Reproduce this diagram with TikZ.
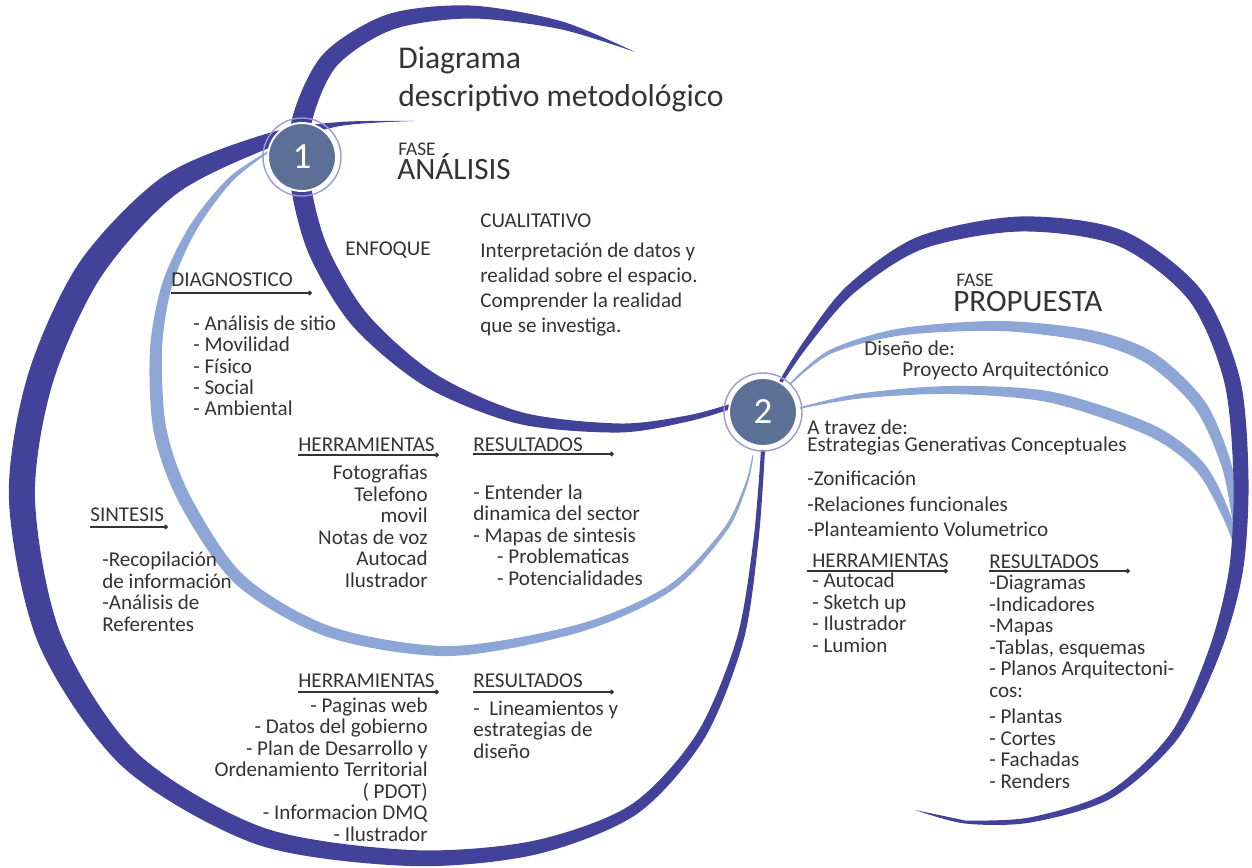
\documentclass[tikz,border=0pt]{standalone}
\usepackage{fontspec}
\setmainfont{Carlito}
\usetikzlibrary{arrows.meta}
\definecolor{swooshDark}{RGB}{66,66,154}
\definecolor{swooshLight}{RGB}{142,166,214}
\definecolor{phaseFill}{RGB}{92,112,149}
\definecolor{phaseRing}{RGB}{157,153,211}
\definecolor{ink}{RGB}{51,51,51}
\setlength{\lineskiplimit}{-10pt}

\begin{document}
\begin{tikzpicture}[x = 0.02cm, y = -0.02cm]
\tikzstyle{darkStyle} = [fill = swooshDark]
\tikzstyle{lightStyle} = [fill = swooshLight]
\tikzstyle{phaseStyle} = [shape = circle, minimum size = 1.36cm, inner sep = 0pt, fill = phaseFill, draw = white, line width = 1.1pt, text = white, font = \fontsize{21}{21}\selectfont]
\tikzstyle{ringStyle} = [draw = phaseRing, line width = 0.8pt]
\tikzstyle{bodyStyle} = [inner sep = 0pt, text = ink, align = left, anchor = base west, font = \fontsize{12}{12.2}\selectfont]
\tikzstyle{rightStyle} = [bodyStyle, align = right, anchor = base east]
\tikzstyle{titleStyle} = [bodyStyle, font = \fontsize{18}{22}\selectfont]
\tikzstyle{faseStyle} = [bodyStyle, font = \fontsize{11}{11}\selectfont]
\tikzstyle{phaseNameStyle} = [bodyStyle, font = \fontsize{17.7}{17.7}\selectfont]
\tikzstyle{ruleStyle} = [draw = ink, line width = 0.6pt, -{Circle[length = 2.6pt]}]
\useasboundingbox (0,0) rectangle (1252,868);
\fill[lightStyle] plot[smooth] coordinates {(267.5,151.4) (228.2,178.2) (189.6,225.9) (162.2,283.5) (150,349.7) (153.6,431.2) (179.3,503.1) (236,584.4) (328.2,637.2) (450.1,656) (581.1,631.8) (671.7,590.5) (726.6,531.2) (747.1,485.4) (753.5,455)}
  -- plot[smooth] coordinates {(752.5,455) (744.9,484.6) (723.4,528.8) (668.3,585.5) (578.9,624.2) (449.9,646) (331.8,626.8) (244,575.6) (190.7,496.9) (166.4,428.8) (162,350.3) (171.8,286.5) (196.4,230.1) (231.8,181.8) (268.5,152.6)} -- cycle;
\fill[lightStyle] plot[smooth] coordinates {(789.5,383.4) (829.1,350.2) (899.5,328.5) (1000.1,321) (1091.3,330.1) (1153.5,352.5) (1204.9,401.5) (1231.8,465.6) (1240,529.6) (1241,560)}
  -- plot[smooth] coordinates {(1239,560) (1234,530.4) (1222.2,468.4) (1195.1,408.5) (1146.5,363.5) (1088.7,341.9) (999.9,331) (900.5,335.5) (830.9,353.8) (790.5,384.6)} -- cycle;
\fill[lightStyle] plot[smooth] coordinates {(799.8,407.2) (859.7,393.5) (950,386) (1051.1,391.6) (1152.5,424.6) (1204.1,463.4) (1230.7,515.4) (1241,560)}
  -- plot[smooth] coordinates {(1239,560) (1223.3,518.6) (1195.9,470.6) (1147.5,435.4) (1048.9,402.4) (950,394) (860.3,398.5) (800.2,408.8)} -- cycle;
\fill[darkStyle] plot[smooth] coordinates {(415,121) (339.7,122) (267.6,133.4) (163.6,176.1) (79.2,262.8) (27.5,376.3) (9,500.5) (38.9,644.6) (123.1,767.2) (257,844.5) (409.6,866) (534.5,854.8) (636,814.6) (703.8,739.4) (743.4,641) (758.5,540.3) (765,450.2)}
  -- plot[smooth] coordinates {(761,449.8) (753.5,539.7) (736.6,639) (696.2,734.6) (630,805.4) (531.5,841.2) (410.4,850) (263,827.5) (136.9,752.8) (61.1,635.4) (35,499.5) (52.5,383.7) (100.8,277.2) (176.4,193.9) (272.4,146.6) (340.3,126) (415,121)} -- cycle;
\fill[darkStyle] plot[smooth] coordinates {(635,52) (560.9,21.1) (470.1,5.5) (387.4,14.4) (323.3,54) (292.3,117.6) (290.1,181.2) (308.8,253.9) (352.8,326.2) (425.8,386.8) (518.5,423.8) (620,432.5) (690.6,420.9) (735.7,407.4)}
  -- plot[smooth] coordinates {(734.3,402.6) (689.4,415.1) (620,423.5) (521.5,412.2) (434.2,373.2) (367.2,313.8) (327.2,246.1) (309.9,178.8) (311.7,122.4) (336.7,66) (392.6,29.6) (469.9,18.5) (559.1,28.9) (635,52)} -- cycle;
\fill[darkStyle] plot[smooth] coordinates {(775.7,387.2) (802.6,343.2) (846.7,286.3) (917.6,236.9) (1019.8,216.5) (1123,230.6) (1201.3,290) (1239.8,378.1) (1248.5,479.8) (1242.9,571.1) (1220.6,652.1) (1178.6,737.6) (1111.8,798) (1030.5,822.5) (964.9,823.5) (915,810)}
  -- plot[smooth] coordinates {(965.1,820.5) (1029.5,817.5) (1108.2,792) (1171.4,732.4) (1209.4,647.9) (1229.1,568.9) (1233.5,480.2) (1224.2,381.9) (1188.7,300) (1117,245.4) (1020.2,231.5) (922.4,249.1) (853.3,293.7) (807.4,346.8) (778.3,388.8)} -- cycle;
\node[phaseStyle] (phase1) at (302,157) {1};
\node[phaseStyle] (phase2) at (763,412) {2};
\draw[ringStyle] (phase1.center) circle[radius = 39];
\draw[ringStyle] (phase2.center) circle[radius = 39];
\node[titleStyle] (title) at (398,107) {Diagrama\\descriptivo metodológico};
\node[faseStyle] (faseA) at (398,156) {FASE};
\node[phaseNameStyle] (analisis) at (397,180) {ANÁLISIS};
\node[bodyStyle] (enfoque) at (345,256) {ENFOQUE};
\node[bodyStyle] (cualitativo) at (480,228) {CUALITATIVO};
\node[bodyStyle, font = \fontsize{12}{14.3}\selectfont] (interp) at (480,333) {Interpretación de datos y\\realidad sobre el espacio.\\Comprender la realidad\\que se investiga.};
\node[bodyStyle] (diag) at (171,287) {DIAGNOSTICO};
\coordinate (diagEnd) at (312,293);
\draw[ruleStyle] (diag.west |- diagEnd) -- (diagEnd);
\node[bodyStyle] (diagList) at (193,416) {- Análisis de sitio\\- Movilidad\\- Físico\\- Social\\- Ambiental};
\node[bodyStyle] (herrA) at (298,452) {HERRAMIENTAS};
\coordinate (herrAEnd) at (439,455);
\draw[ruleStyle] (herrA.west |- herrAEnd) -- (herrAEnd);
\node[rightStyle] (herrAList) at (428,587) {Fotografias\\Telefono\\movil\\Notas de voz\\Autocad\\Ilustrador};
\node[bodyStyle] (resA) at (473,452) {RESULTADOS};
\coordinate (resAEnd) at (614,454);
\draw[ruleStyle] (resA.west |- resAEnd) -- (resAEnd);
\node[bodyStyle] (resAList) at (473,585) {- Entender la\\dinamica del sector\\- Mapas de sintesis\\\hspace*{13.6pt}- Problematicas\\\hspace*{13.6pt}- Potencialidades};
\node[bodyStyle] (sint) at (90,521) {SINTESIS};
\coordinate (sintEnd) at (168,527);
\draw[ruleStyle] (sint.west |- sintEnd) -- (sintEnd);
\node[bodyStyle] (sintList) at (102,631) {-Recopilación\\de información\\-Análisis de\\Referentes};
\node[bodyStyle] (herrB) at (298,687) {HERRAMIENTAS};
\coordinate (herrBEnd) at (439,692);
\draw[ruleStyle] (herrB.west |- herrBEnd) -- (herrBEnd);
\node[rightStyle] (herrBList) at (428,841) {- Paginas web\\- Datos del gobierno\\- Plan de Desarrollo y\\Ordenamiento Territorial\\( PDOT)\\- Informacion DMQ\\- Ilustrador};
\node[bodyStyle] (resB) at (473,687) {RESULTADOS};
\coordinate (resBEnd) at (614,692);
\draw[ruleStyle] (resB.west |- resBEnd) -- (resBEnd);
\node[bodyStyle] (resBList) at (473,758) {-\ \ Lineamientos y\\estrategias de\\diseño};
\node[faseStyle] (faseP) at (956,287) {FASE};
\node[phaseNameStyle] (propuesta) at (953,312) {PROPUESTA};
\node[bodyStyle] (diseno) at (864,356) {Diseño de:};
\node[bodyStyle] (proyecto) at (902,377) {Proyecto Arquitectónico};
\node[bodyStyle] (travez) at (807,435) {A travez de:};
\node[bodyStyle] (estrategias) at (807,452) {Estrategias Generativas Conceptuales};
\node[bodyStyle, font = \fontsize{12}{14.7}\selectfont] (zonif) at (807,537) {-Zonificación\\-Relaciones funcionales\\-Planteamiento Volumetrico};
\node[bodyStyle] (herrC) at (812,567) {HERRAMIENTAS};
\coordinate (herrCStart) at (807,571);
\coordinate (herrCEnd) at (948,571);
\draw[ruleStyle] (herrCStart) -- (herrCEnd);
\node[bodyStyle] (herrCList) at (812,652) {- Autocad\\- Sketch up\\- Ilustrador\\- Lumion};
\node[bodyStyle] (resC) at (989,568) {RESULTADOS};
\coordinate (resCEnd) at (1130,571);
\draw[ruleStyle] (resC.west |- resCEnd) -- (resCEnd);
\node[bodyStyle] (resCList) at (989,697) {-Diagramas\\-Indicadores\\-Mapas\\-Tablas, esquemas\\- Planos Arquitectoni-\\cos:};
\node[bodyStyle] (planos) at (989,788) {- Plantas\\- Cortes\\- Fachadas\\- Renders};
\end{tikzpicture}
\end{document}
